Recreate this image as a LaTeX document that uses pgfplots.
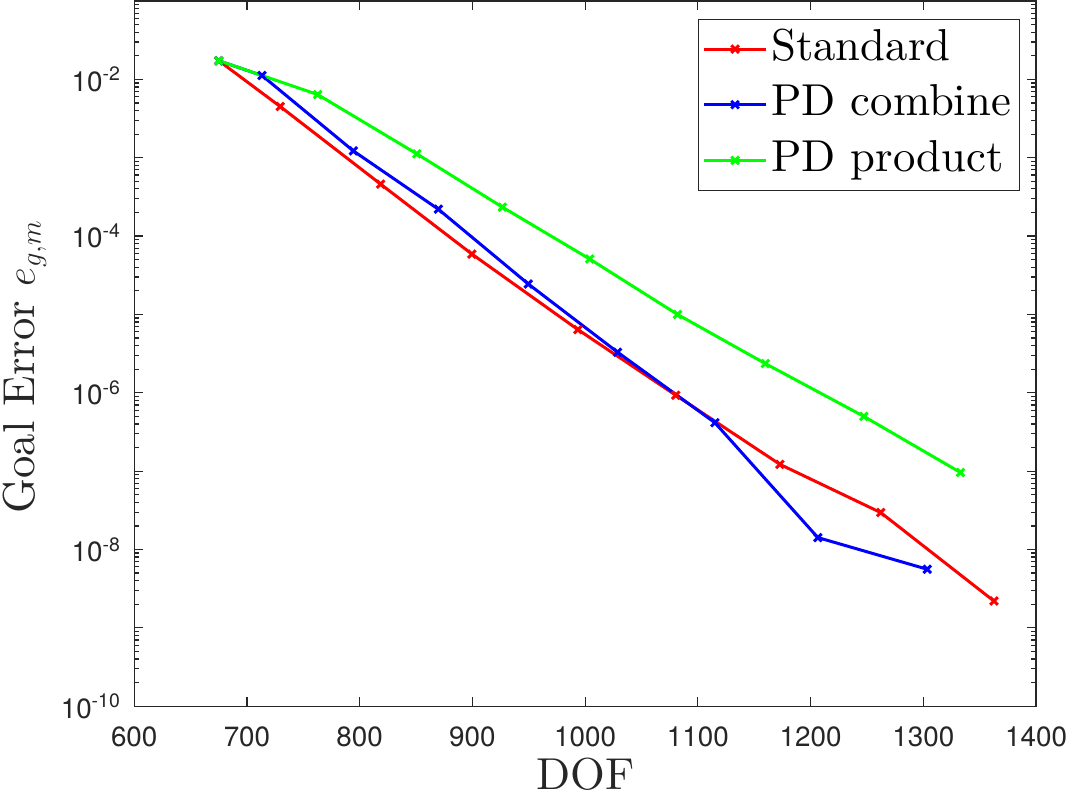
\documentclass[border=0pt]{standalone}
\usepackage{fontspec}
\setmainfont{lmroman10-regular.otf}[ItalicFont=lmroman10-italic.otf, BoldFont=lmroman10-bold.otf]
\usepackage{pgfplots}
\pgfplotsset{compat=1.18}
\newfontfamily\hv{TeX Gyre Heros}
\definecolor{axgray}{gray}{0.15}

\pgfplotstableread{
x y
675 1.73e-2
729.5 4.5e-3
818.6 4.6e-4
899.5 5.9e-5
993.6 6.4e-6
1080.4 9.3e-7
1172.8 1.22e-7
1262.2 2.96e-8
1362.6 2.2e-9
}\standard
\pgfplotstableread{
x y
675 1.73e-2
713.3 1.12e-2
794.4 1.22e-3
869.8 2.2e-4
949.5 2.45e-5
1028.7 3.3e-6
1115.1 4.15e-7
1206.4 1.42e-8
1303.4 5.6e-9
}\combine
\pgfplotstableread{
x y
675 1.73e-2
762.7 6.4e-3
850.7 1.12e-3
926.6 2.34e-4
1004 5.1e-5
1081.9 1.0e-5
1159.8 2.36e-6
1247.2 5.0e-7
1333 9.6e-8
}\product

\begin{document}
\begin{tikzpicture}
\begin{axis}[
  scale only axis, width=452.2bp, height=353.6bp,
  xmin=600, xmax=1400, ymode=log, ymin=1e-10, ymax=1e-1,
  xtick={600,700,800,900,1000,1100,1200,1300,1400},
  xticklabels={600,700,800,900,1000,1100,1200,1300,1400},
  ytick={1e-10,1e-9,1e-8,1e-7,1e-6,1e-5,1e-4,1e-3,1e-2,1e-1},
  yticklabels={10\textsuperscript{-10},,10\textsuperscript{-8},,10\textsuperscript{-6},,10\textsuperscript{-4},,10\textsuperscript{-2},},
  minor ytick={2e-10,3e-10,4e-10,5e-10,6e-10,7e-10,8e-10,9e-10,
    2e-9,3e-9,4e-9,5e-9,6e-9,7e-9,8e-9,9e-9,
    2e-8,3e-8,4e-8,5e-8,6e-8,7e-8,8e-8,9e-8,
    2e-7,3e-7,4e-7,5e-7,6e-7,7e-7,8e-7,9e-7,
    2e-6,3e-6,4e-6,5e-6,6e-6,7e-6,8e-6,9e-6,
    2e-5,3e-5,4e-5,5e-5,6e-5,7e-5,8e-5,9e-5,
    2e-4,3e-4,4e-4,5e-4,6e-4,7e-4,8e-4,9e-4,
    2e-3,3e-3,4e-3,5e-3,6e-3,7e-3,8e-3,9e-3,
    2e-2,3e-2,4e-2,5e-2,6e-2,7e-2,8e-2,9e-2},
  tick align=inside,
  major tick length=4.5bp, minor tick length=2.5bp,
  axis line style={axgray, line width=0.6bp},
  every tick/.style={axgray, line width=0.6bp},
  ticklabel style={font=\fontsize{14}{14}\selectfont\hv, text=axgray},
  xticklabel style={inner sep=0pt, anchor=north, yshift=-10bp},
  yticklabel style={inner sep=0pt, anchor=east, xshift=-6.5bp},
  xlabel={DOF},
  ylabel={Goal Error $e_{g,m}$},
  every axis x label/.style={at={([yshift=-42bp]axis description cs:0.5,0)}, anchor=base, inner sep=0pt, font=\fontsize{22.5}{27}\selectfont, text=axgray},
  every axis y label/.style={at={([xshift=-66bp]axis description cs:0,0.4816)}, rotate=90, anchor=north, inner sep=0pt, font=\fontsize{22.5}{27}\selectfont, text=axgray},
  legend style={at={(rel axis cs:1,1)}, anchor=north east, xshift=-8.3bp, yshift=-8.85bp,
    draw=axgray, line width=0.5bp, fill=white,
    font=\fontsize{22.5}{27}\selectfont,
    inner xsep=2bp, inner ysep=5bp, row sep=7.9bp,
    cells={anchor=west},
    nodes={inner xsep=2bp, inner ysep=0bp, text height=15.6bp, text depth=4.4bp}},
  legend image code/.code={\draw[mark repeat=2,mark phase=2,#1] plot coordinates {(0bp,0bp) (15.4bp,0bp) (30.85bp,0bp)};},
  every axis plot/.append style={line width=1.5bp, mark=x, mark size=2.7bp, mark options={solid}},
]
\addplot[red] table[x=x,y=y] {\standard};
\addplot[blue] table[x=x,y=y] {\combine};
\addplot[green] table[x=x,y=y] {\product};
\legend{Standard, PD combine, PD product}
\end{axis}
\path ([xshift=-1.5bp]current bounding box.west) ([xshift=3bp]current bounding box.east) ([yshift=-2bp]current bounding box.south);
\end{tikzpicture}
\end{document}
